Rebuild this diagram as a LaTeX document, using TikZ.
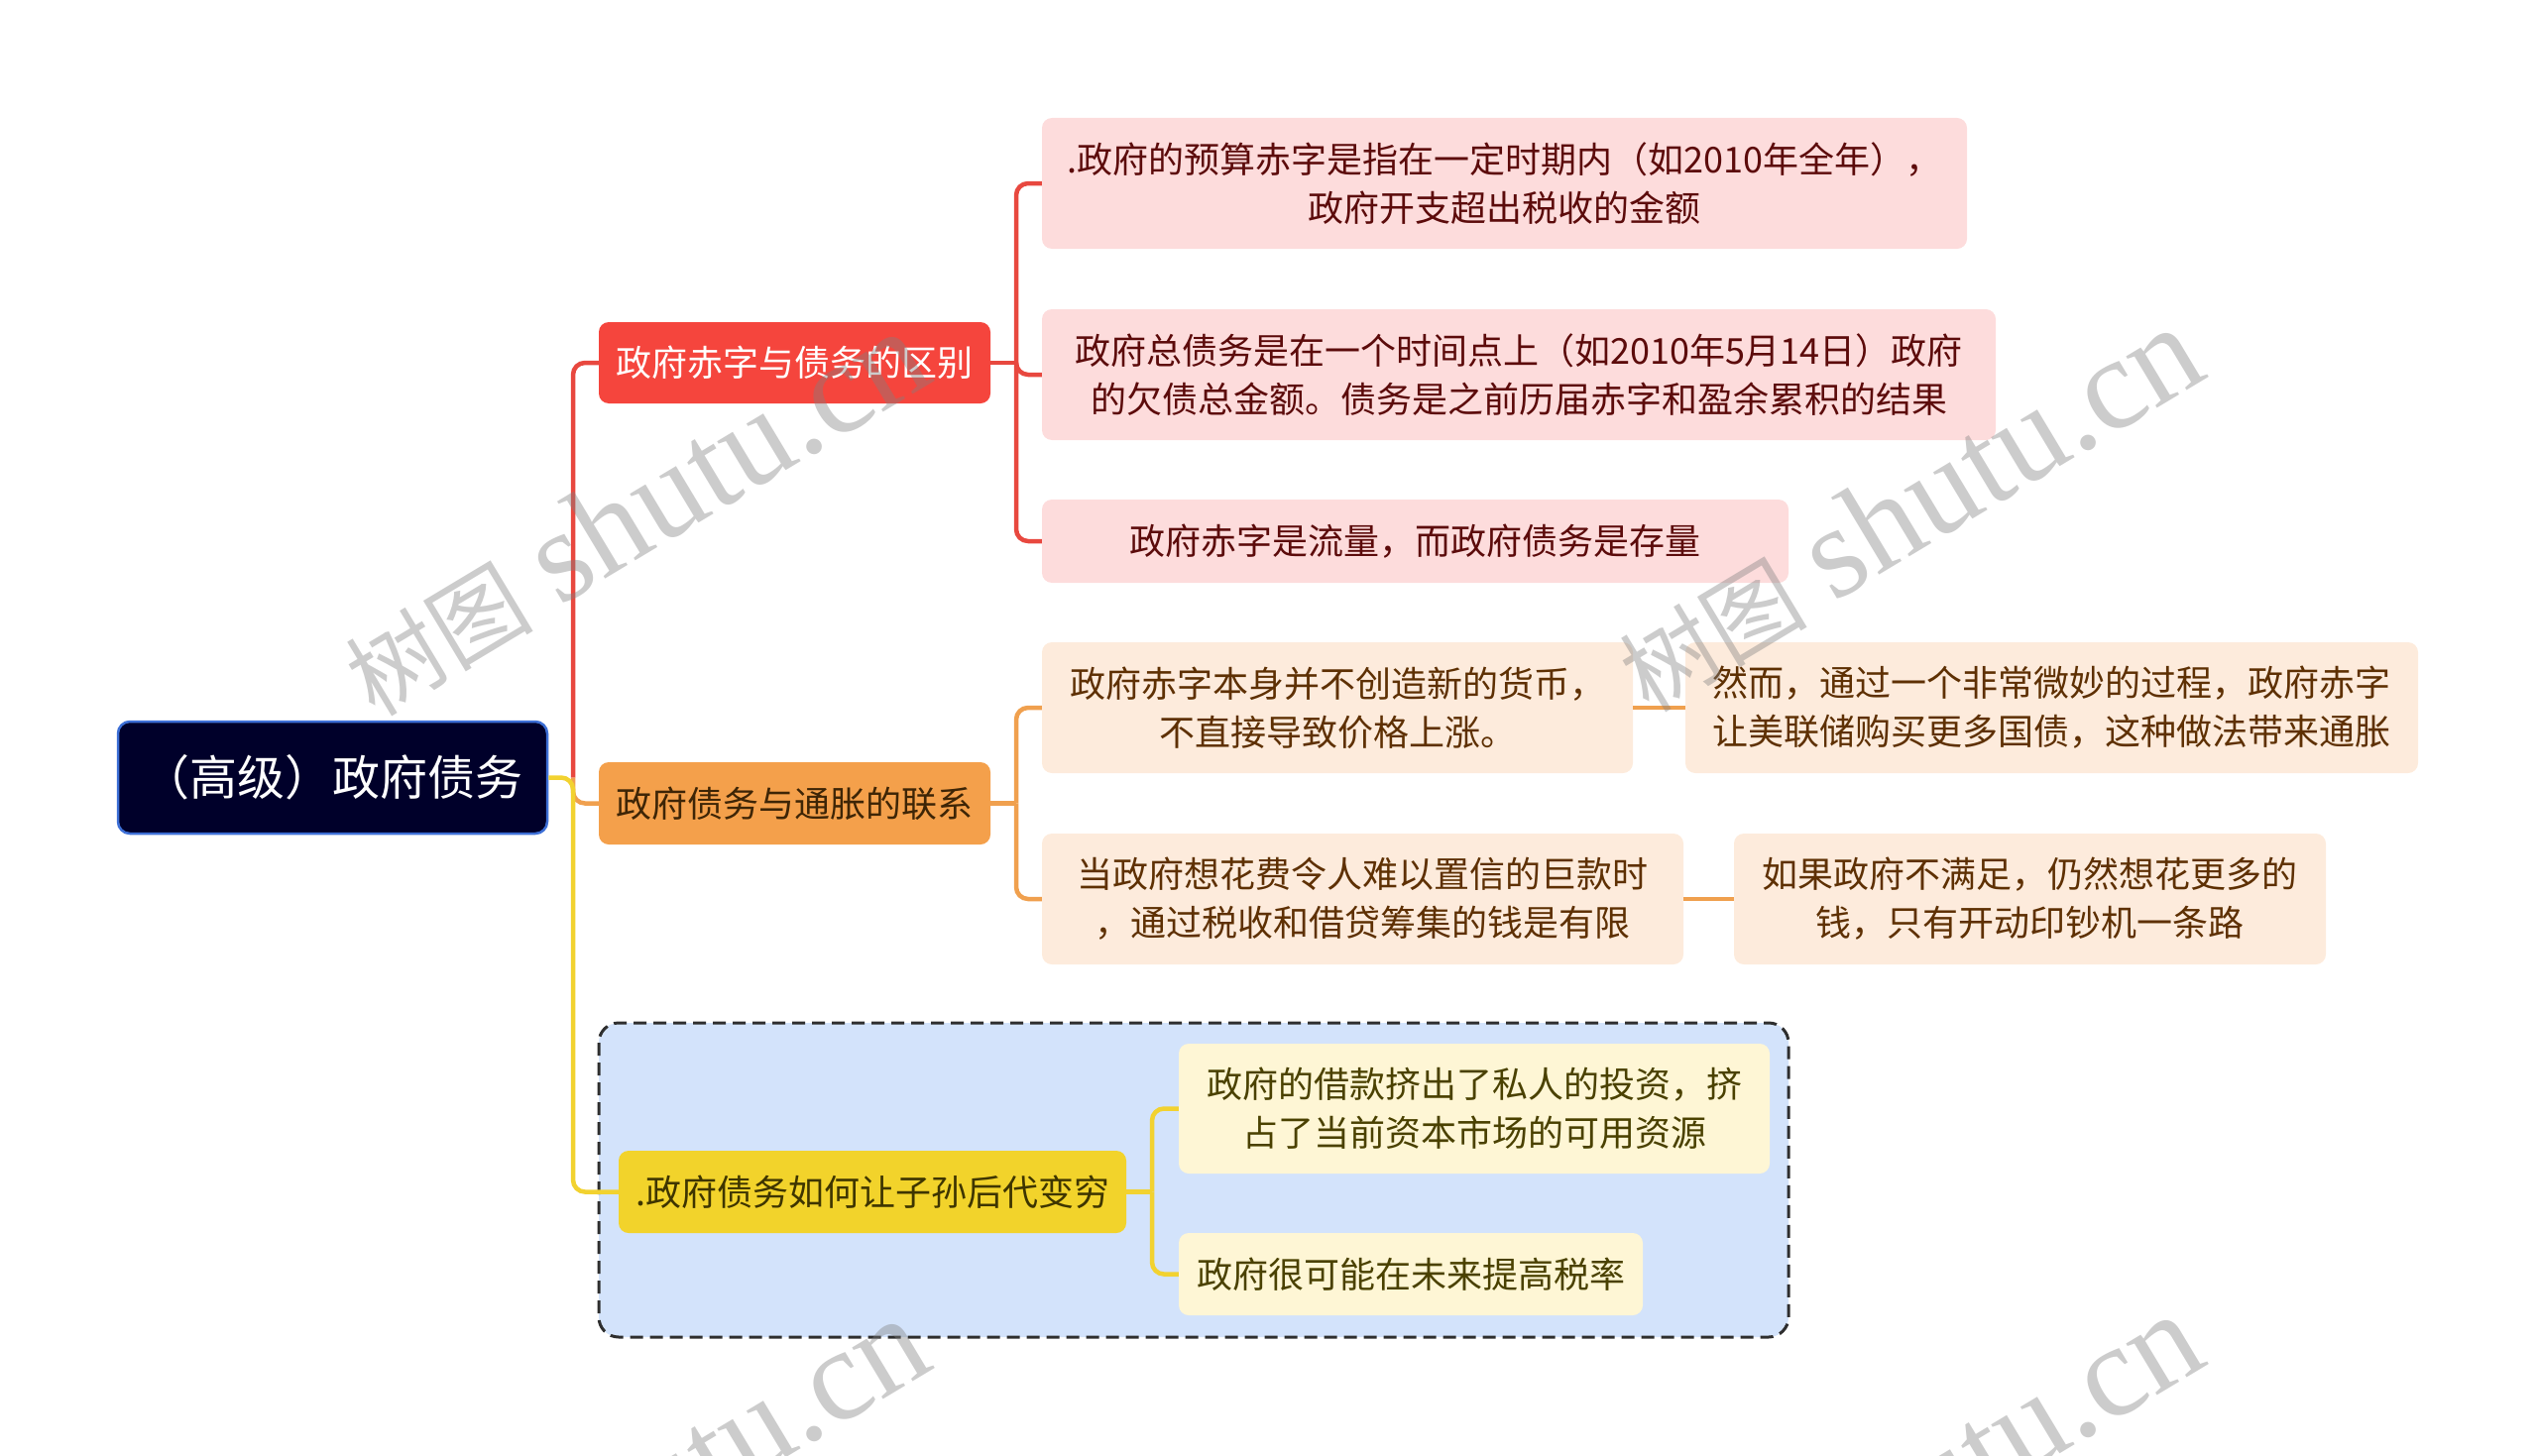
\documentclass[tikz,border=0pt]{standalone}
\usepackage{fontspec}
\setmainfont{Noto Sans CJK SC}
\newfontfamily\wmfont{Liberation Serif}
\newfontfamily\wmcjk{Noto Sans CJK SC}
\definecolor{rootfill}{HTML}{00002A}
\definecolor{rootdraw}{HTML}{3D6FD6}
\definecolor{redfill}{HTML}{F5453D}
\definecolor{redline}{HTML}{E8483F}
\definecolor{redleaf}{HTML}{FDDCDC}
\definecolor{redtext}{HTML}{5C0B0B}
\definecolor{orafill}{HTML}{F4A04B}
\definecolor{oraline}{HTML}{F0A04E}
\definecolor{oraleaf}{HTML}{FDEBDC}
\definecolor{oratext}{HTML}{5E3003}
\definecolor{orabtext}{HTML}{3E2506}
\definecolor{yelfill}{HTML}{F2D32B}
\definecolor{yelline}{HTML}{F2D230}
\definecolor{yelleaf}{HTML}{FEF6D5}
\definecolor{yeltext}{HTML}{4A4100}
\definecolor{yelbtext}{HTML}{3E3500}
\definecolor{boxfill}{HTML}{D3E3FB}
\definecolor{boxdraw}{HTML}{2E2E2E}
\newcommand{\wmtext}{{\wmcjk\fontsize{95pt}{95pt}\selectfont 树图}\hspace{28pt}{\wmfont\fontsize{132pt}{132pt}\selectfont shutu.cn}}
\begin{document}
\begin{tikzpicture}[x=1pt,y=-1pt,
  box/.style={rectangle,rounded corners=10pt,inner sep=0pt,align=center,
    font=\fontsize{36pt}{49pt}\selectfont},
  rootbox/.style={box,fill=rootfill,draw=rootdraw,line width=2.5pt,text=white,
    rounded corners=12pt,font=\fontsize{48pt}{55pt}\selectfont},
  redb/.style={box,fill=redfill,text=white},
  orab/.style={box,fill=orafill,text=orabtext},
  yelb/.style={box,fill=yelfill,text=yelbtext},
  redl/.style={box,fill=redleaf,text=redtext},
  oral/.style={box,fill=oraleaf,text=oratext},
  yell/.style={box,fill=yelleaf,text=yeltext},
  rline/.style={draw=redline,line width=4.5pt,rounded corners=12pt},
  oline/.style={draw=oraline,line width=4.5pt,rounded corners=12pt},
  yline/.style={draw=yelline,line width=4.5pt,rounded corners=12pt},
  wm/.style={text=gray,opacity=0.4,rotate=31,inner sep=0pt,anchor=center}
]
\useasboundingbox (0,0) rectangle (2560,1469);

% dashed group box
\draw[fill=boxfill,draw=boxdraw,line width=3pt,dash pattern=on 13pt off 7pt,rounded corners=20pt]
  (604,1032) rectangle (1804,1349);

% nodes
\node[rootbox,minimum width=433pt,minimum height=113pt] (root) at (335.5,784.5) {（高级）政府债务};
\node[redb,minimum width=395pt,minimum height=82pt] (red) at (801.5,366) {政府赤字与债务的区别};
\node[orab,minimum width=395pt,minimum height=83pt] (ora) at (801.5,810.5) {政府债务与通胀的联系};
\node[yelb,minimum width=512pt,minimum height=83pt] (yel) at (880,1202.5) {.政府债务如何让子孙后代变穷};

\node[redl,minimum width=933pt,minimum height=132pt] (L1) at (1517.5,185) {.政府的预算赤字是指在一定时期内（如2010年全年），\\政府开支超出税收的金额};
\node[redl,minimum width=962pt,minimum height=132pt] (L2) at (1532,378) {政府总债务是在一个时间点上（如2010年5月14日）政府\\的欠债总金额。债务是之前历届赤字和盈余累积的结果};
\node[redl,minimum width=753pt,minimum height=84pt] (L3) at (1427.5,546) {政府赤字是流量，而政府债务是存量};

\node[oral,minimum width=596pt,minimum height=132pt] (O1) at (1349,714) {政府赤字本身并不创造新的货币，\\不直接导致价格上涨。};
\node[oral,minimum width=739pt,minimum height=132pt] (O1b) at (2069.5,714) {然而，通过一个非常微妙的过程，政府赤字\\让美联储购买更多国债，这种做法带来通胀};
\node[oral,minimum width=647pt,minimum height=132pt] (O2) at (1374.5,907) {当政府想花费令人难以置信的巨款时\\，通过税收和借贷筹集的钱是有限};
\node[oral,minimum width=597pt,minimum height=132pt] (O2b) at (2047.5,907) {如果政府不满足，仍然想花更多的\\钱，只有开动印钞机一条路};

\node[yell,minimum width=596pt,minimum height=131pt] (Y1) at (1487,1118.5) {政府的借款挤出了私人的投资，挤\\占了当前资本市场的可用资源};
\node[yell,minimum width=468pt,minimum height=83pt] (Y2) at (1423,1285.5) {政府很可能在未来提高税率};

% junctions
\coordinate (j0) at (578,784.5);
\coordinate (jr) at (1025,366);
\coordinate (jo) at (1025,810.5);
\coordinate (jy) at (1162,1202.5);

% connectors
\draw[rline] (j0) |- (red.west);
\draw[oline] (j0) |- (ora.west);
\draw[yline] (root.east) -- (j0) |- (yel.west);

\draw[rline] (red.east) -- (jr);
\draw[rline] (jr) |- (L1.west);
\draw[rline] (jr) |- (L2.west);
\draw[rline] (jr) |- (L3.west);

\draw[oline] (ora.east) -- (jo);
\draw[oline] (jo) |- (O1.west);
\draw[oline] (jo) |- (O2.west);
\draw[oline] (O1.east) -- (O1b.west);
\draw[oline] (O2.east) -- (O2b.west);

\draw[yline] (yel.east) -- (jy);
\draw[yline] (jy) |- (Y1.west);
\draw[yline] (jy) |- (Y2.west);

% watermarks
\begin{scope}
\clip (0,0) rectangle (2560,1469);
\node[wm] (w1) at (640,518) {\wmtext};
\node[wm] (w2) at (1925,514) {\wmtext};
\node[wm] (w3) at (640,1514) {\wmtext};
\node[wm] (w4) at (1925,1510) {\wmtext};
\end{scope}
\end{tikzpicture}
\end{document}
